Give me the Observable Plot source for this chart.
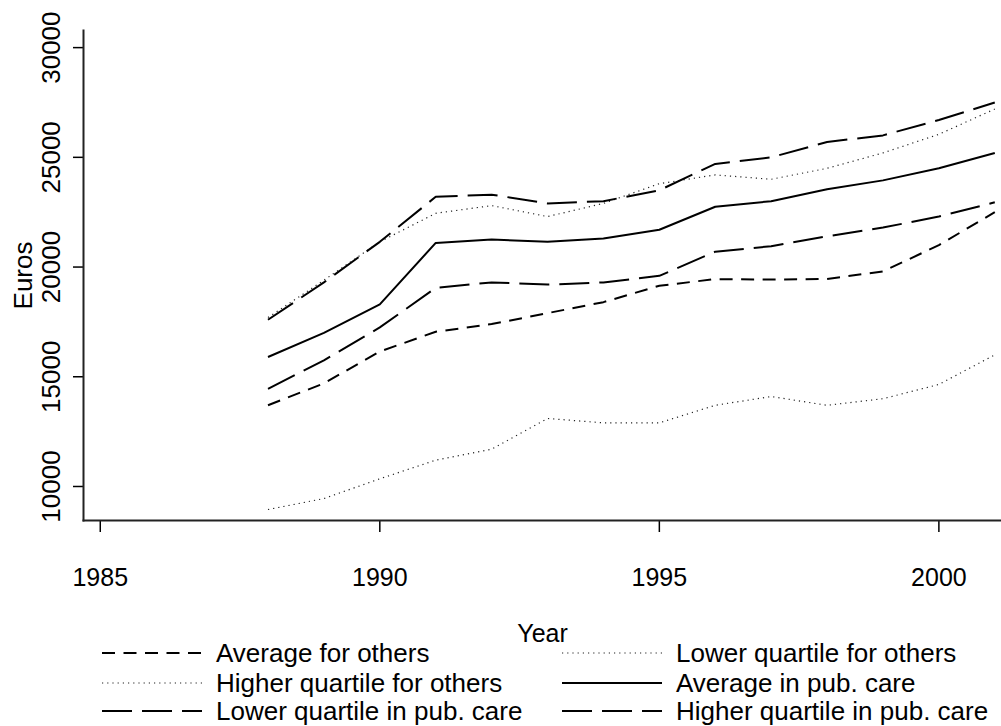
<!DOCTYPE html>
<html>
<head>
<meta charset="utf-8">
<script src="https://cdn.jsdelivr.net/npm/d3@7"></script>
<script src="https://cdn.jsdelivr.net/npm/@observablehq/plot@0.6"></script>
<style>
  html, body { margin: 0; padding: 0; background: #fff; }
  #wrap { position: relative; width: 1001px; height: 726px; overflow: hidden; font-family: "Liberation Sans", Arial, sans-serif; }
  .leg { position: absolute; display: flex; align-items: center; font-size: 26px; color: #000; white-space: nowrap; line-height: 28px; }
  .leg svg { margin-right: 12px; }
</style>
</head>
<body>
<div id="wrap"></div>
<script>
const years = [1988, 1989, 1990, 1991, 1992, 1993, 1994, 1995, 1996, 1997, 1998, 1999, 2000, 2001];
const avgOthers   = [13700, 14700, 16150, 17050, 17400, 17900, 18400, 19150, 19450, 19430, 19460, 19800, 21000, 22500];
const lowQOthers  = [8950, 9450, 10350, 11200, 11700, 13100, 12900, 12900, 13700, 14100, 13700, 14000, 14650, 16000];
const highQOthers = [17700, 19400, 21150, 22450, 22800, 22300, 22900, 23800, 24200, 24000, 24500, 25200, 26050, 27200];
const avgPub      = [15900, 17000, 18300, 21100, 21250, 21150, 21300, 21700, 22750, 23000, 23550, 23950, 24500, 25200];
const lowQPub     = [14450, 15750, 17250, 19050, 19300, 19200, 19300, 19600, 20700, 20950, 21400, 21800, 22300, 22950];
const highQPub    = [17600, 19300, 21150, 23200, 23300, 22900, 23000, 23500, 24700, 25000, 25700, 26000, 26700, 27500];

const xTicks = [1985, 1990, 1995, 2000];
const yTicks = [10000, 15000, 20000, 25000, 30000];

const seriesNames = [
  "Average for others", "Lower quartile for others",
  "Higher quartile for others", "Average in pub. care",
  "Lower quartile in pub. care", "Higher quartile in pub. care"
];
const seriesValues = [avgOthers, lowQOthers, highQOthers, avgPub, lowQPub, highQPub];

const styles = {
  "Average for others":           {stroke: "#000", strokeWidth: 2, strokeDasharray: "13,8.5"},
  "Lower quartile for others":    {stroke: "#222", strokeWidth: 1.2, strokeDasharray: "1.2,4"},
  "Higher quartile for others":   {stroke: "#222", strokeWidth: 1.2, strokeDasharray: "1.2,4"},
  "Average in pub. care":         {stroke: "#000", strokeWidth: 2, strokeDasharray: null},
  "Lower quartile in pub. care":  {stroke: "#000", strokeWidth: 2, strokeDasharray: "30,10"},
  "Higher quartile in pub. care": {stroke: "#000", strokeWidth: 2, strokeDasharray: "30,10"}
};

const lineMarks = seriesNames.map((name, i) => {
  const data = years.map((yr, j) => ({year: yr, value: seriesValues[i][j]}));
  const s = styles[name];
  const opts = {x: "year", y: "value", stroke: s.stroke, strokeWidth: s.strokeWidth, strokeLinejoin: "miter", strokeLinecap: "butt"};
  if (s.strokeDasharray) opts.strokeDasharray = s.strokeDasharray;
  return Plot.line(data, opts);
});

const chart = Plot.plot({
  width: 1001,
  height: 645,
  marginLeft: 83,
  marginRight: 0,
  marginTop: 30,
  marginBottom: 125,
  style: {fontFamily: "Liberation Sans, Arial, sans-serif", background: "#fff", color: "#000"},
  x: {domain: [1984.7, 2001.12]},
  y: {domain: [8450, 30780]},
  marks: [
    ...lineMarks,
    Plot.axisX({ticks: xTicks, tickFormat: d => String(d), tickSize: 12, tickPadding: 36, fontSize: 25,
      strokeWidth: 1.5, label: "Year", labelAnchor: "center", labelArrow: "none", labelOffset: 121}),
    Plot.axisY({ticks: yTicks, tickFormat: d => String(d), tickSize: 10, tickPadding: 14, fontSize: 26,
      tickRotate: -90, strokeWidth: 1.5, label: "Euros", labelAnchor: "center", labelArrow: "none", labelOffset: 70}),
    Plot.frame({anchor: "left", stroke: "#222", strokeWidth: 2}),
    Plot.frame({anchor: "bottom", stroke: "#222", strokeWidth: 2})
  ]
});
const wrap = document.getElementById("wrap");
wrap.appendChild(chart);

// legend
const legendPos = [
  {left: 100, top: 653}, {left: 560, top: 653},
  {left: 100, top: 683}, {left: 560, top: 683},
  {left: 100, top: 711}, {left: 560, top: 711}
];
seriesNames.forEach((name, i) => {
  const s = styles[name];
  const div = document.createElement("div");
  div.className = "leg";
  div.style.left = legendPos[i].left + "px";
  div.style.top = (legendPos[i].top - 14) + "px";
  div.style.height = "28px";
  const svg = d3.create("svg").attr("width", 104).attr("height", 28);
  const ln = svg.append("line").attr("x1", 2).attr("x2", 102).attr("y1", 14).attr("y2", 14)
    .attr("stroke", s.stroke).attr("stroke-width", s.strokeWidth);
  if (s.strokeDasharray) ln.attr("stroke-dasharray", s.strokeDasharray);
  div.appendChild(svg.node());
  const span = document.createElement("span");
  span.textContent = name;
  div.appendChild(span);
  wrap.appendChild(div);
});
</script>
</body>
</html>
